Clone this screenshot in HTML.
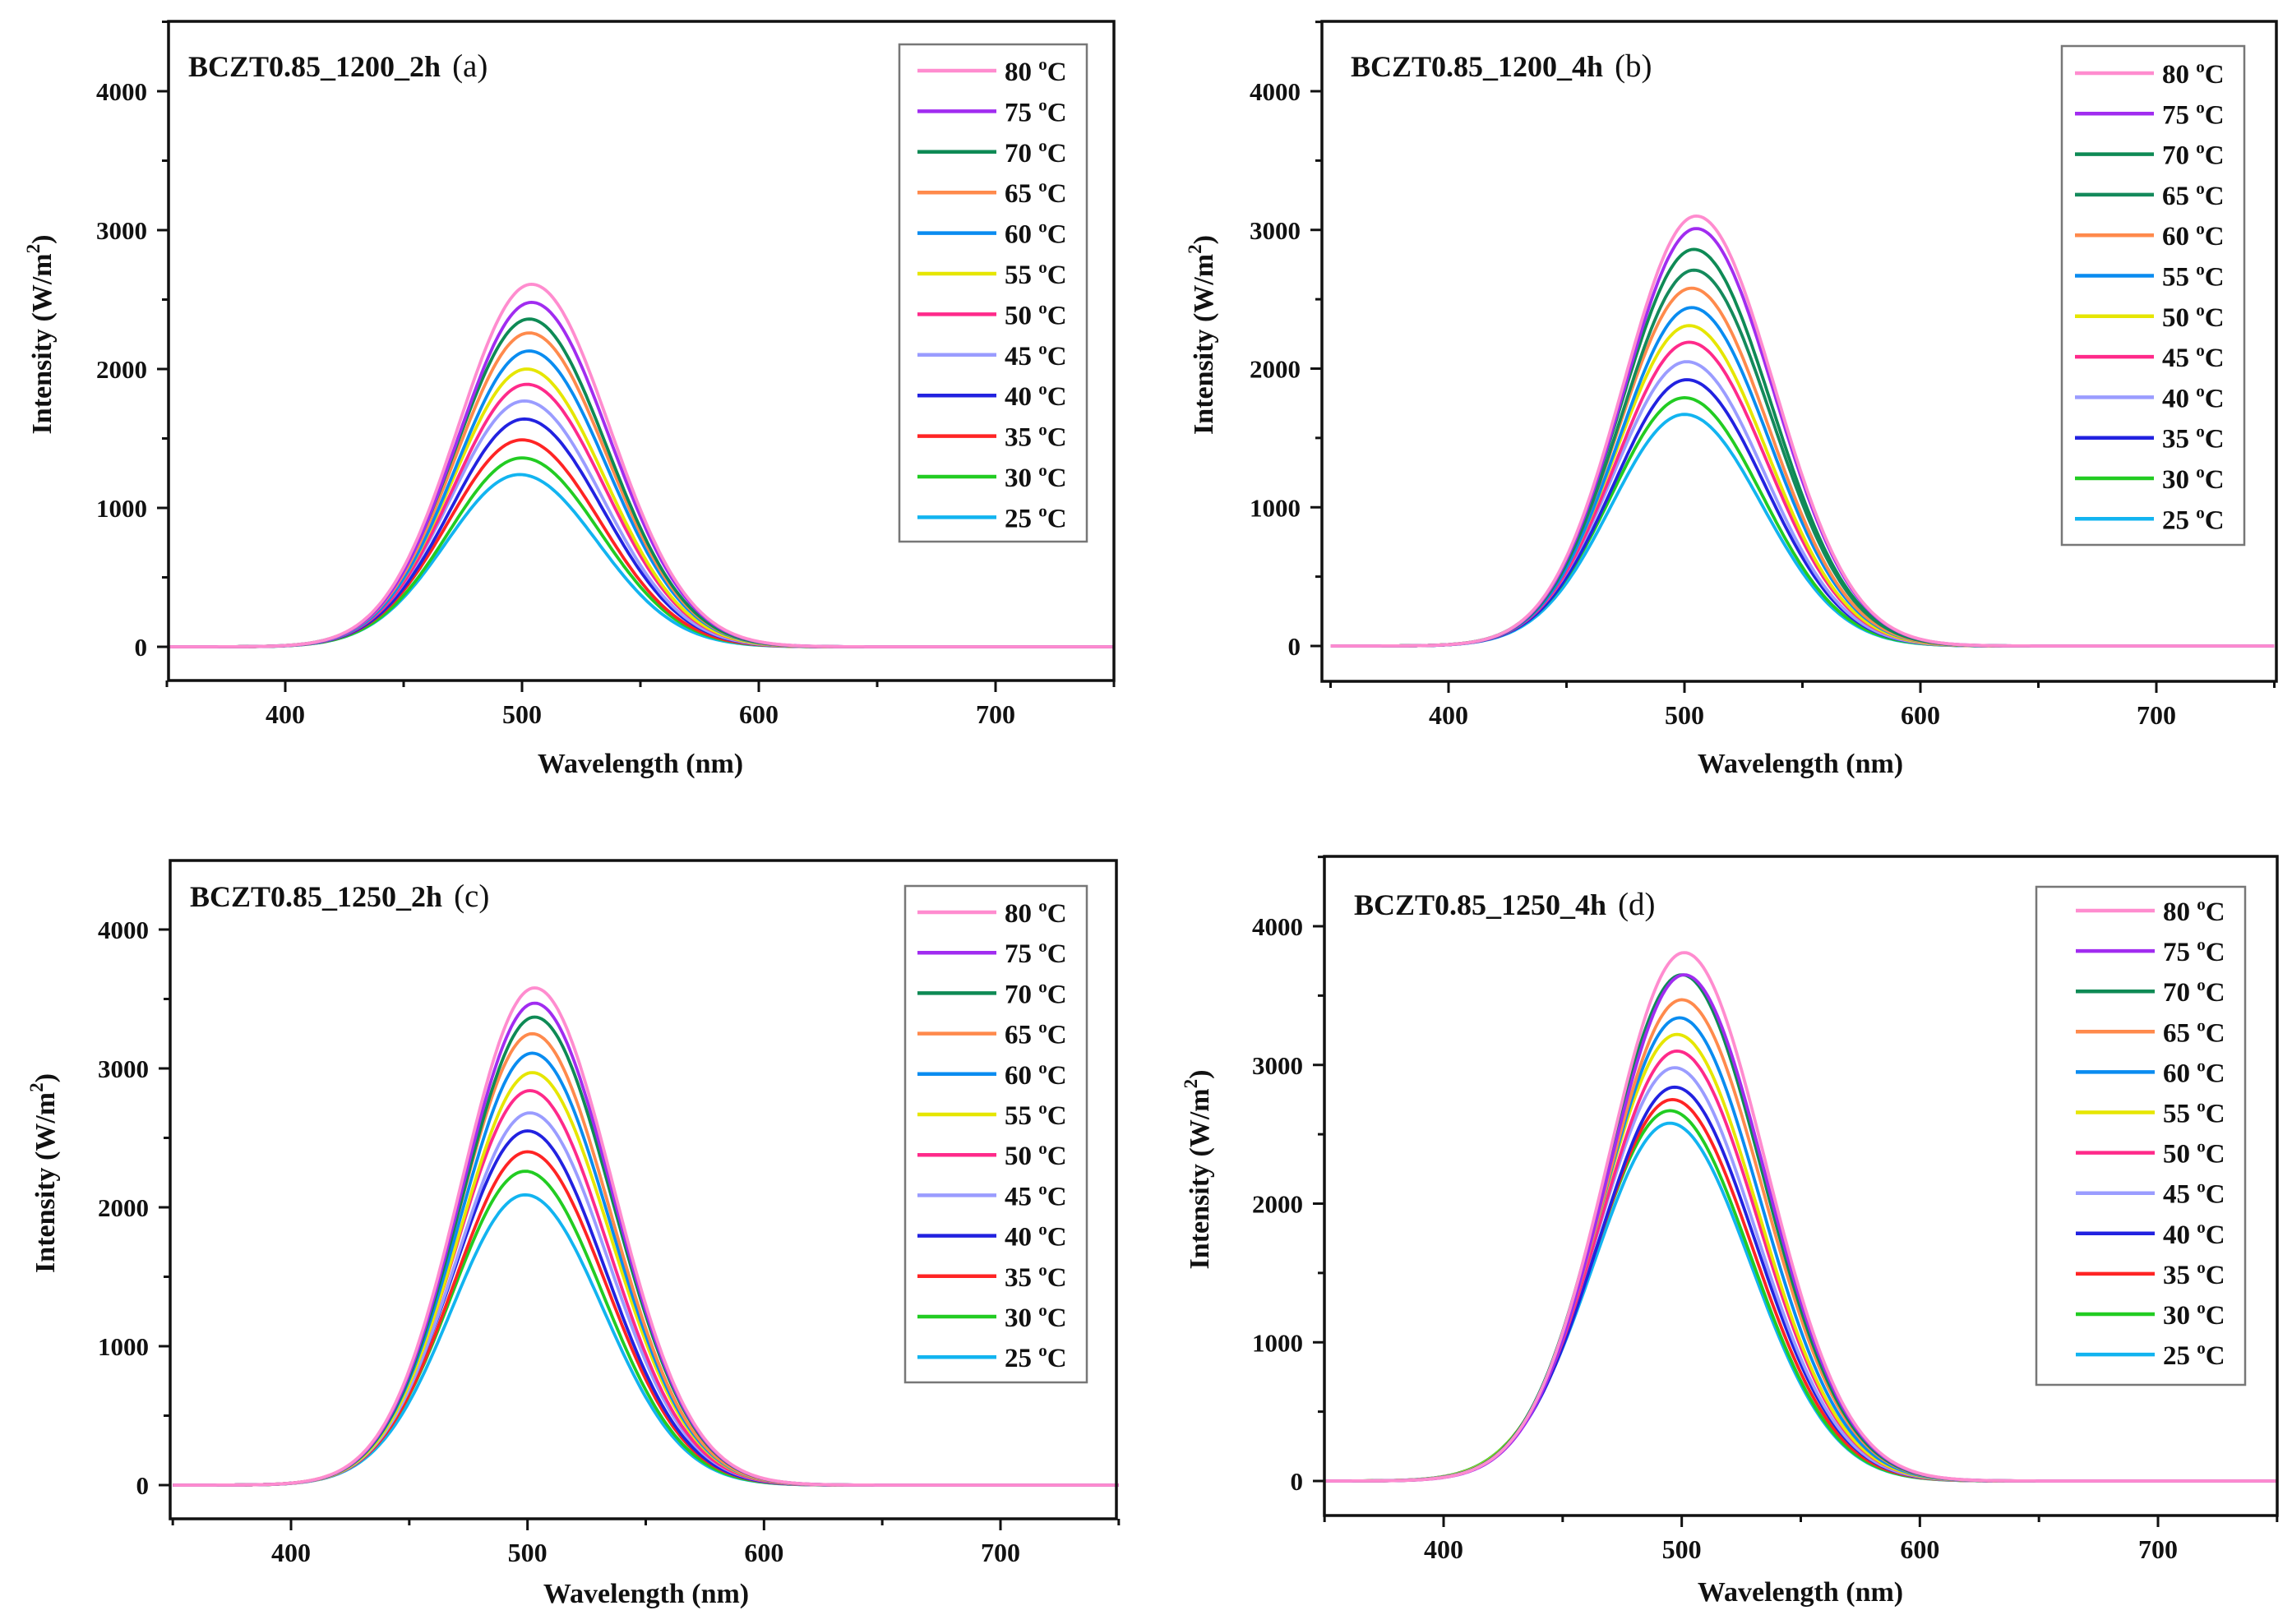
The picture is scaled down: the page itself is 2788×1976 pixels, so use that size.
<!DOCTYPE html>
<html><head><meta charset="utf-8"><style>
html,body{margin:0;padding:0;background:#fff}
svg{display:block}
text{font-family:"Liberation Serif",serif;font-weight:bold;fill:#111}
</style></head><body>
<svg id="fig" width="2788" height="1976" viewBox="0 0 2788 1976" xmlns="http://www.w3.org/2000/svg"></svg>
<script>
// ---- data ----
const temps = [80,75,70,65,60,55,50,45,40,35,30,25];
const xTicks = [400,500,600,700];
const yTicks = [0,1000,2000,3000,4000];
const titles = ["BCZT0.85_1200_2h","BCZT0.85_1200_4h","BCZT0.85_1250_2h","BCZT0.85_1250_4h"];
const tags = ["(a)","(b)","(c)","(d)"];
const peaksA = [2610,2480,2360,2260,2130,2000,1890,1770,1640,1490,1360,1240];
const peaksB = [3100,3010,2860,2710,2580,2440,2310,2190,2050,1920,1790,1670];
const peaksC = [3580,3470,3370,3250,3110,2970,2840,2680,2550,2400,2260,2090];
const peaksD = [3810,3650,3650,3470,3340,3220,3100,2980,2840,2750,2670,2580];
const centersA = [504,504,503,503,503,502,502,501,501,500,500,499];
const centersB = [505,505,504,504,503,503,502,502,501,501,500,500];
const centersC = [503,503,503,502,502,502,501,501,500,500,499,499];
const centersD = [501,501,500,500,499,498,498,497,497,496,495,495];
const colorsStd = ["#ff8ccf","#a12cf0","#0e8a55","#ff8a4c","#0a8cf0","#e6e600","#ff2a8a","#9a9cff","#2222e0","#ff2424","#22cc22","#12b4f0"];
const colorsB = ["#ff8ccf","#a12cf0","#0e8a55","#148a5c","#ff8a4c","#0a8cf0","#e6e600","#ff2a8a","#9a9cff","#2222e0","#22cc22","#12b4f0"];

const panels = [
 {L:205,R:1355,T:26,B:828,y0:787,y4:111,x4:347,x7:1211,peaks:peaksA,centers:centersA,colors:colorsStd,sl:31,sr:33,
  leg:[1094,54,228,605],row0:86,rowStep:49.4,tx:229,ty:93,xl:779,xlY:940,ylX:62},
 {L:1608,R:2769,T:26,B:829,y0:786,y4:111,x4:1762,x7:2623,peaks:peaksB,centers:centersB,colors:colorsB,sl:31,sr:33,
  leg:[2508,56,222,607],row0:89,rowStep:49.3,tx:1643,ty:93,xl:2190,xlY:940,ylX:1475},
 {L:207,R:1358,T:1047,B:1848,y0:1807,y4:1131,x4:354,x7:1217,peaks:peaksC,centers:centersC,colors:colorsStd,sl:31,sr:33,
  leg:[1101,1078,221,604],row0:1110,rowStep:49.2,tx:231,ty:1103,xl:786,xlY:1950,ylX:66},
 {L:1611,R:2770,T:1042,B:1844,y0:1802,y4:1127,x4:1756,x7:2625,peaks:peaksD,centers:centersD,colors:colorsStd,sl:32,sr:34,
  leg:[2477,1079,254,606],row0:1108,rowStep:49.1,tx:1647,ty:1113,xl:2190,xlY:1948,ylX:1470}
];

const NS="http://www.w3.org/2000/svg";
const svg=document.getElementById('fig');
function mk(tag,attrs,parent){const e=document.createElementNS(NS,tag);for(const k in attrs)e.setAttribute(k,attrs[k]);(parent||svg).appendChild(e);return e;}

panels.forEach((p,pi)=>{
  const g=mk('g',{});
  
  
  const xs=v=>p.x4+(v-400)*(p.x7-p.x4)/300;
  const ys=v=>p.y0-(v)*(p.y0-p.y4)/4000;
  for(let i=temps.length-1;i>=0;i--){
    let d='';
    for(let w=350;w<=750;w+=1){
      const c=p.centers[i], s=w<c?p.sl:p.sr;
      const v=p.peaks[i]*Math.exp(-((w-c)*(w-c))/(2*s*s));
      d+=(w===350?'M':'L')+xs(w).toFixed(1)+','+ys(v).toFixed(1);
    }
    const path=mk('path',{d:d,fill:'none',stroke:p.colors[i],'stroke-width':3.8},g);
    
    
  }
  const fr=mk('rect',{x:p.L,y:p.T,width:p.R-p.L,height:p.B-p.T,fill:'none',stroke:'#111','stroke-width':3.5},g);
  
  
  for(let v=0;v<=4500;v+=500){
    const y=ys(v); if(y<p.T) continue;
    mk('line',{x1:p.L,x2:p.L-(v%1000===0?14:8),y1:y,y2:y,stroke:'#111','stroke-width':3},g);
  }
  yTicks.forEach(v=>{
    const t=mk('text',{x:p.L-26,y:ys(v)+11,'text-anchor':'end','font-size':31},g);
    t.textContent=v;
    
    
  });
  for(let w=350;w<=750;w+=50){
    mk('line',{x1:xs(w),x2:xs(w),y1:p.B,y2:p.B+(w%100===0?14:8),stroke:'#111','stroke-width':3},g);
  }
  xTicks.forEach(v=>{
    const t=mk('text',{x:xs(v),y:p.B+52,'text-anchor':'middle','font-size':32},g);
    t.textContent=v;
    
    
  });
  const xt=mk('text',{x:p.xl,y:p.xlY,'text-anchor':'middle','font-size':34},g);
  xt.textContent='Wavelength (nm)';
  
  
  const ymid=(p.T+p.B)/2-20;
  const yt=mk('text',{x:0,y:0,'text-anchor':'middle','font-size':34,transform:`translate(${p.ylX},${ymid}) rotate(-90)`},g);
  yt.innerHTML='Intensity (W/m<tspan dy="-14" font-size="23">2</tspan><tspan dy="14">)</tspan>';
  
  
  const tt=mk('text',{x:p.tx,y:p.ty,'font-size':36},g);
  tt.innerHTML=titles[pi]+'<tspan font-weight="normal" dx="14" font-size="39">'+tags[pi]+'</tspan>';
  
  
  const lg=mk('g',{},g);
  
  
  mk('rect',{x:p.leg[0],y:p.leg[1],width:p.leg[2],height:p.leg[3],fill:'#fff',stroke:'#777','stroke-width':2.5},lg);
  temps.forEach((t,i)=>{
    const y=p.row0+i*p.rowStep;
    const e=mk('g',{},lg);
    
    
    const lx=p.leg[0]+p.leg[2]-206;
    mk('line',{x1:lx,x2:lx+96,y1:y,y2:y,stroke:p.colors[i],'stroke-width':4.5},e);
    const tx=mk('text',{x:lx+106,y:y+12,'font-size':33},e);
    tx.innerHTML=t+' <tspan dy="-13" font-size="21">o</tspan><tspan dy="13">C</tspan>';
  });
});
</script>
</body></html>
